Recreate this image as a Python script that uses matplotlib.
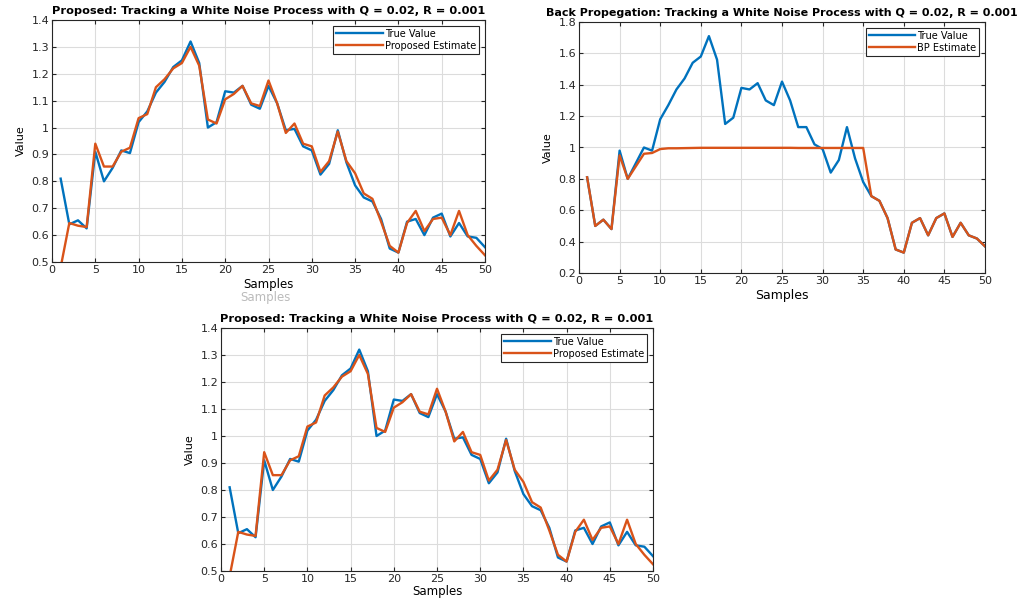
import numpy as np
import matplotlib
matplotlib.use("Agg")
import matplotlib.pyplot as plt

samples = list(range(1, 51))

prop_true = [0.81, 0.64, 0.655, 0.625, 0.91, 0.80, 0.85, 0.915, 0.905, 1.02,
             1.06, 1.13, 1.17, 1.225, 1.25, 1.32, 1.24, 1.00, 1.02, 1.135,
             1.13, 1.155, 1.085, 1.07, 1.155, 1.09, 0.99, 0.995, 0.93, 0.915,
             0.825, 0.865, 0.99, 0.87, 0.785, 0.74, 0.725, 0.66, 0.55, 0.535,
             0.65, 0.66, 0.60, 0.665, 0.68, 0.595, 0.645, 0.595, 0.59, 0.555]
prop_est = [0.48, 0.645, 0.635, 0.63, 0.94, 0.855, 0.855, 0.91, 0.925, 1.035,
            1.05, 1.15, 1.18, 1.22, 1.24, 1.30, 1.23, 1.03, 1.015, 1.105,
            1.125, 1.155, 1.09, 1.08, 1.175, 1.09, 0.98, 1.015, 0.94, 0.93,
            0.835, 0.875, 0.985, 0.875, 0.83, 0.755, 0.735, 0.65, 0.56, 0.535,
            0.645, 0.69, 0.615, 0.66, 0.665, 0.60, 0.69, 0.60, 0.56, 0.525]

bp_true = [0.81, 0.50, 0.54, 0.48, 0.98, 0.80, 0.90, 1.00, 0.98, 1.18,
           1.27, 1.37, 1.44, 1.54, 1.58, 1.71, 1.56, 1.15, 1.19, 1.38,
           1.37, 1.41, 1.30, 1.27, 1.42, 1.30, 1.13, 1.13, 1.02, 0.99,
           0.84, 0.92, 1.13, 0.93, 0.78, 0.69, 0.66, 0.55, 0.35, 0.33,
           0.52, 0.55, 0.44, 0.55, 0.58, 0.43, 0.52, 0.44, 0.42, 0.37]
bp_est = [0.81, 0.50, 0.54, 0.48, 0.95, 0.80, 0.88, 0.96, 0.965, 0.99,
          0.995, 0.995, 0.996, 0.997, 0.998, 0.998, 0.998, 0.998, 0.998, 0.998,
          0.998, 0.998, 0.998, 0.998, 0.998, 0.998, 0.997, 0.997, 0.997, 0.997,
          0.997, 0.997, 0.997, 0.997, 0.997, 0.69, 0.66, 0.55, 0.35, 0.33,
          0.52, 0.55, 0.44, 0.55, 0.58, 0.43, 0.52, 0.44, 0.42, 0.37]

title_prop = "Proposed: Tracking a White Noise Process with Q = 0.02, R = 0.001"
title_bp = "Back Propegation: Tracking a White Noise Process with Q = 0.02, R = 0.001"

BLUE = "#0072BD"
ORANGE = "#D95319"

W, H = 1028, 602
fig = plt.figure(figsize=(W / 100, H / 100), dpi=100)


def add_ax(l, r, t, b):
    return fig.add_axes([l / W, 1 - b / H, (r - l) / W, (b - t) / H])


def style(ax, ylim, yticks):
    ax.set_xlim(0, 50)
    ax.set_ylim(*ylim)
    ax.set_xticks(range(0, 51, 5))
    ax.set_yticks(yticks)
    ax.set_yticklabels([f"{v:g}" for v in yticks])
    ax.grid(True, color="#dcdcdc", linewidth=0.8)
    ax.set_axisbelow(True)
    ax.tick_params(direction="in", top=True, right=True, labelsize=8,
                   length=3, colors="#262626", pad=2)
    for s in ax.spines.values():
        s.set_color("#262626")
        s.set_linewidth(0.8)


def add_legend(ax):
    leg = ax.legend(loc="upper right", fontsize=7, handlelength=4.8,
                    fancybox=False, edgecolor="#262626", framealpha=1,
                    borderaxespad=0.6, labelspacing=0.2, handletextpad=0.2,
                    borderpad=0.3)
    leg.get_frame().set_linewidth(0.8)


yt = [0.5, 0.6, 0.7, 0.8, 0.9, 1.0, 1.1, 1.2, 1.3, 1.4]
yt2 = [0.2, 0.4, 0.6, 0.8, 1.0, 1.2, 1.4, 1.6, 1.8]

# Top-left: proposed
ax1 = add_ax(52, 485, 20, 262)
ax1.plot(samples, prop_true, color=BLUE, lw=1.7, label="True Value")
ax1.plot(samples, prop_est, color=ORANGE, lw=1.7, label="Proposed Estimate")
style(ax1, (0.5, 1.4), yt)
ax1.set_title(title_prop, fontsize=8.2, fontweight="bold", pad=4)
ax1.set_xlabel("Samples", fontsize=8.5, labelpad=2)
ax1.set_ylabel("Value", fontsize=8, labelpad=4)
add_legend(ax1)
fig.text(265 / W, 1 - 297 / H, "Samples", fontsize=8.5, color="#bbbbbb",
         ha="center", va="center")

# Top-right: back propagation
ax2 = add_ax(579, 985, 22, 273)
ax2.plot(samples, bp_true, color=BLUE, lw=1.7, label="True Value")
ax2.plot(samples, bp_est, color=ORANGE, lw=1.7, label="BP Estimate")
style(ax2, (0.2, 1.8), yt2)
ax2.set_title(title_bp, fontsize=8.0, fontweight="bold", pad=4)
ax2.set_xlabel("Samples", fontsize=9, labelpad=2)
ax2.set_ylabel("Value", fontsize=8, labelpad=4)
add_legend(ax2)

# Bottom: proposed (repeat)
ax3 = add_ax(221, 653, 328, 571)
ax3.plot(samples, prop_true, color=BLUE, lw=1.7, label="True Value")
ax3.plot(samples, prop_est, color=ORANGE, lw=1.7, label="Proposed Estimate")
style(ax3, (0.5, 1.4), yt)
ax3.set_title(title_prop, fontsize=8.2, fontweight="bold", pad=4)
ax3.set_xlabel("Samples", fontsize=8.5, labelpad=1)
ax3.set_ylabel("Value", fontsize=8, labelpad=4)
add_legend(ax3)

fig.savefig("out.png", dpi=100)
